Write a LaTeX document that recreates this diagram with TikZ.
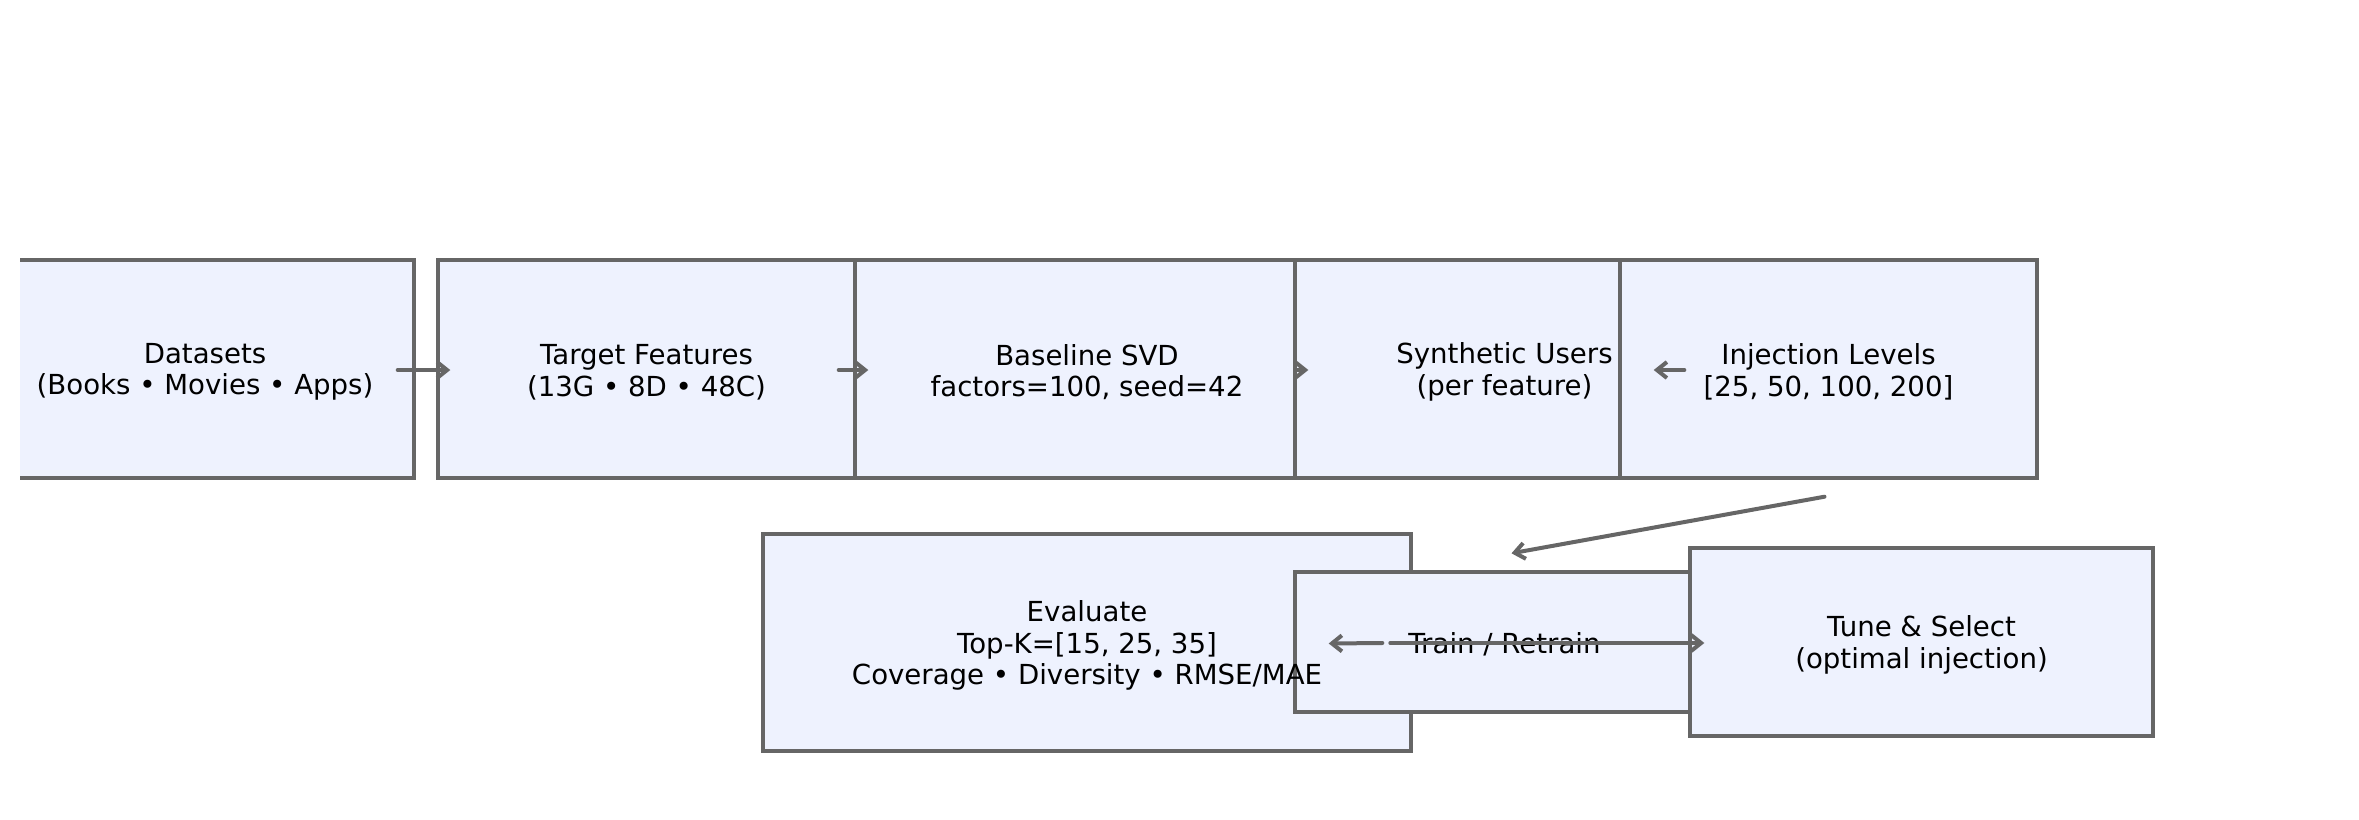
\documentclass[tikz,border=0pt]{standalone}
\usepackage{fontspec}
\setmainfont{DejaVu Sans}
\usetikzlibrary{arrows.meta,calc}
\definecolor{boxfill}{RGB}{238,242,254}
\definecolor{edgegray}{RGB}{102,102,102}
\begin{document}
\begin{tikzpicture}[x=0.5pt,y=-0.5pt,
  box/.style={draw=edgegray,fill=boxfill,line width=1.7pt,inner sep=0pt},
  lbl/.style={font=\fontsize{13.8}{15.8}\selectfont,align=center,text=black,inner sep=0pt},
  arr/.style={draw=edgegray,line width=2pt,line cap=round,-{Straight Barb[length=5pt,width=8pt]}}
]
\useasboundingbox (0,0) rectangle (2359,819);
% top row boxes
\begin{scope}
  \clip (20,0) rectangle (2359,819);
  \node[box,minimum width=208.5pt,minimum height=109pt] (ds) at (205.5,369) {};
\end{scope}
\node[box,minimum width=208.5pt,minimum height=109pt] (tf) at (646.5,369) {};
\node[box,minimum width=232pt,minimum height=109pt] (bs) at (1087,369) {};
\node[box,minimum width=209.5pt,minimum height=109pt] (su) at (1504.5,369) {};
\node[box,minimum width=208.5pt,minimum height=109pt] (il) at (1828.5,369) {};
% bottom row boxes
\node[box,minimum width=324pt,minimum height=108.5pt] (ev) at (1087,642.5) {};
\node[box,minimum width=209.5pt,minimum height=70pt] (tr) at (1504.5,642) {};
\node[box,minimum width=231.5pt,minimum height=94pt] (tu) at (1921.5,642) {};
% texts
\node[lbl] (dst) at (205,372) {Datasets\\(Books • Movies • Apps)};
\node[lbl] (tft) at (646.5,372) {Target Features\\(13G • 8D • 48C)};
\node[lbl] (bst) at (1087,372) {Baseline SVD\\factors=100, seed=42};
\node[lbl] (sut) at (1504.5,372) {Synthetic Users\\(per feature)};
\node[lbl] (ilt) at (1828.5,372) {Injection Levels\\{[25, 50, 100, 200]}};
\node[lbl] (evt) at (1087,645.5) {Evaluate\\Top-K={[15, 25, 35]}\\Coverage • Diversity • RMSE/MAE};
\node[lbl] (trt) at (1504.5,644) {Train / Retrain};
\node[lbl] (tut) at (1921.5,645) {Tune \& Select\\(optimal injection)};
% connectors
\draw[arr] ($(ds.east)+(-18,1)$) -- ($(tf.west)+(14,1)$);
\draw[arr] ($(tf.east)+(-18,1)$) -- ($(bs.west)+(15,1)$);
\draw[arr] ($(su.west)+(3,1)$) -- ($(su.west)+(15,1)$);
\draw[arr] ($(il.west)+(66,1)$) -- ($(su.east)+(-62,1)$);
\draw[arr] ($(il.south)+(-4,17)$) -- ($(tr.north)+(7,-17)$);
\draw[arr] ($(tr.west)+(89,1)$) -- ($(ev.east)+(-84,1)$);
\draw[arr] ($(tr.west)+(97,1)$) -- ($(tu.west)+(16,1)$);
\end{tikzpicture}
\end{document}
